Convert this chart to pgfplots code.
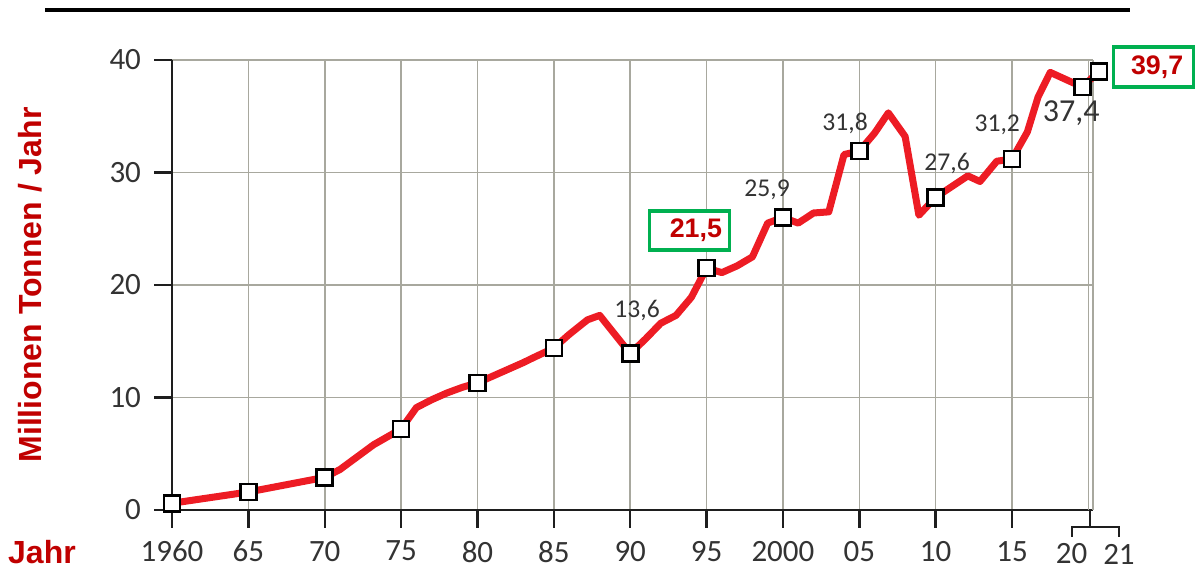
\documentclass[border=0pt]{standalone}
\usepackage{pgfplots}
\pgfplotsset{compat=1.18}
\usepackage{fontspec}
\setmainfont{Carlito}
\newfontfamily\arialf{Liberation Sans}
\definecolor{redline}{HTML}{ED1C24}
\definecolor{darkred}{HTML}{C00000}
\definecolor{boxgreen}{HTML}{00B050}
\definecolor{gridc}{HTML}{A8A89E}
\definecolor{axisc}{HTML}{1E1E1E}
\definecolor{labc}{HTML}{333333}
\begin{document}
\begin{tikzpicture}
\path[use as bounding box] (0,0) rectangle (598pt,286pt);
\draw[line width=1.6pt,black] (22.5pt,281pt) -- (565pt,281pt);
\node[rotate=90,text=darkred,font=\arialf\bfseries\fontsize{16}{19}\selectfont] at (15pt,143.5pt) {Millionen Tonnen / Jahr};
\node[text=darkred,font=\arialf\bfseries\fontsize{16}{19}\selectfont] at (21pt,10pt) {Jahr};
\begin{axis}[
  at={(86pt,31pt)}, anchor=south west,
  scale only axis, width=460.5pt, height=225pt,
  xmin=1960, xmax=2020.3, ymin=0, ymax=40,
  axis x line=bottom, axis y line=left,
  axis line style={-, draw=axisc, line width=1.2pt},
  xtick={1960,1965,1970,1975,1980,1985,1990,1995,2000,2005,2010,2015},
  xticklabels={1960,65,70,75,80,85,90,95,2000,05,10,15},
  ytick={0,10,20,30,40},
  yticklabels={0,10,20,30,40},
  tick align=outside,
  major tick length=9pt,
  tick style={line width=1.2pt, draw=axisc},
  grid=major,
  major grid style={draw=gridc, line width=0.8pt},
  ticklabel style={text=labc, font=\fontsize{15.5}{18}\selectfont},
  xticklabel style={yshift=-3pt},
  yticklabel style={xshift=-3pt},
  clip=false,
]
\draw[gridc, line width=0.8pt] (axis cs:2020,0) -- (axis cs:2020,40);
\draw[gridc, line width=0.8pt] (axis cs:2020.3,0) -- (axis cs:2020.3,40);
\addplot[redline, line width=3.5pt, line join=round, line cap=round, no marks] coordinates {
(1960,0.6) (1965,1.6) (1970,2.9) (1971,3.6) (1973.2,5.8) (1975,7.2) (1976,9.1)
(1977,9.8) (1978,10.4) (1979,10.9) (1980,11.3) (1981,11.9) (1982,12.5) (1983,13.1)
(1983.6,13.5) (1985,14.4) (1986,15.6) (1987.2,16.9) (1988,17.3) (1990,13.9)
(1991,15.2) (1992,16.6) (1993,17.3) (1994,18.9) (1995,21.5) (1996,21.1) (1997,21.7)
(1998,22.5) (1999,25.5) (2000,26.0) (2001,25.5) (2002,26.4) (2003,26.5) (2004,31.6)
(2005,31.9) (2006,33.5) (2006.9,35.3) (2008,33.2) (2008.9,26.2) (2010,27.8) (2011,28.7)
(2012.1,29.7) (2012.9,29.2) (2014,31.0) (2015,31.2) (2016,33.6) (2016.7,36.7)
(2017.5,38.9) (2019.6,37.6) (2020.7,39.0)
};
\addplot[only marks, mark=square*, mark size=4pt, mark options={fill=white, draw=black, line width=1.3pt}] coordinates {
(1960,0.6) (1965,1.6) (1970,2.9) (1975,7.2) (1980,11.3) (1985,14.4) (1990,13.9)
(1995,21.5) (2000,26.0) (2005,31.9) (2010,27.8) (2015,31.2) (2019.6,37.6) (2020.7,39.0)
};
\begin{scope}[font=\fontsize{12.8}{15}\selectfont, text=labc]
\node at (axis cs:1990.45,17.7) {13,6};
\node at (axis cs:1998.96,28.5) {25,9};
\node at (axis cs:2004.07,34.4) {31,8};
\node at (axis cs:2010.75,30.8) {27,6};
\node at (axis cs:2014.03,34.2) {31,2};
\end{scope}
\node[text=labc, font=\fontsize{16}{19}\selectfont] at (axis cs:2018.87,35.3) {37,4};
\node[draw=boxgreen, line width=1.6pt, minimum width=40pt, minimum height=19.5pt, fill=white] at (axis cs:1993.86,24.84) {};
\node[text=darkred, font=\arialf\bfseries\fontsize{13.4}{16}\selectfont] at (axis cs:1994.3,24.84) {21,5};
\node[draw=boxgreen, line width=1.6pt, minimum width=40pt, minimum height=20pt, fill=white] at (axis cs:2024.24,39.38) {};
\node[text=darkred, font=\arialf\bfseries\fontsize{13.4}{16}\selectfont] at (axis cs:2024.5,39.38) {39,7};
\draw[line width=1.2pt, axisc] (axis cs:2020.12,0) -- ([yshift=-8.5pt]axis cs:2020.12,0);
\draw[line width=1.2pt, axisc] ([yshift=-13.5pt]axis cs:2018.94,0) -- ([yshift=-8.5pt]axis cs:2018.94,0) -- ([yshift=-8.5pt]axis cs:2022,0) -- ([yshift=-13.5pt]axis cs:2022,0);
\node[text=labc, font=\fontsize{15.5}{18}\selectfont] at ([yshift=-22pt]axis cs:2018.9,0) {20};
\node[text=labc, font=\fontsize{15.5}{18}\selectfont] at ([yshift=-22pt]axis cs:2022,0) {21};
\end{axis}
\end{tikzpicture}
\end{document}
